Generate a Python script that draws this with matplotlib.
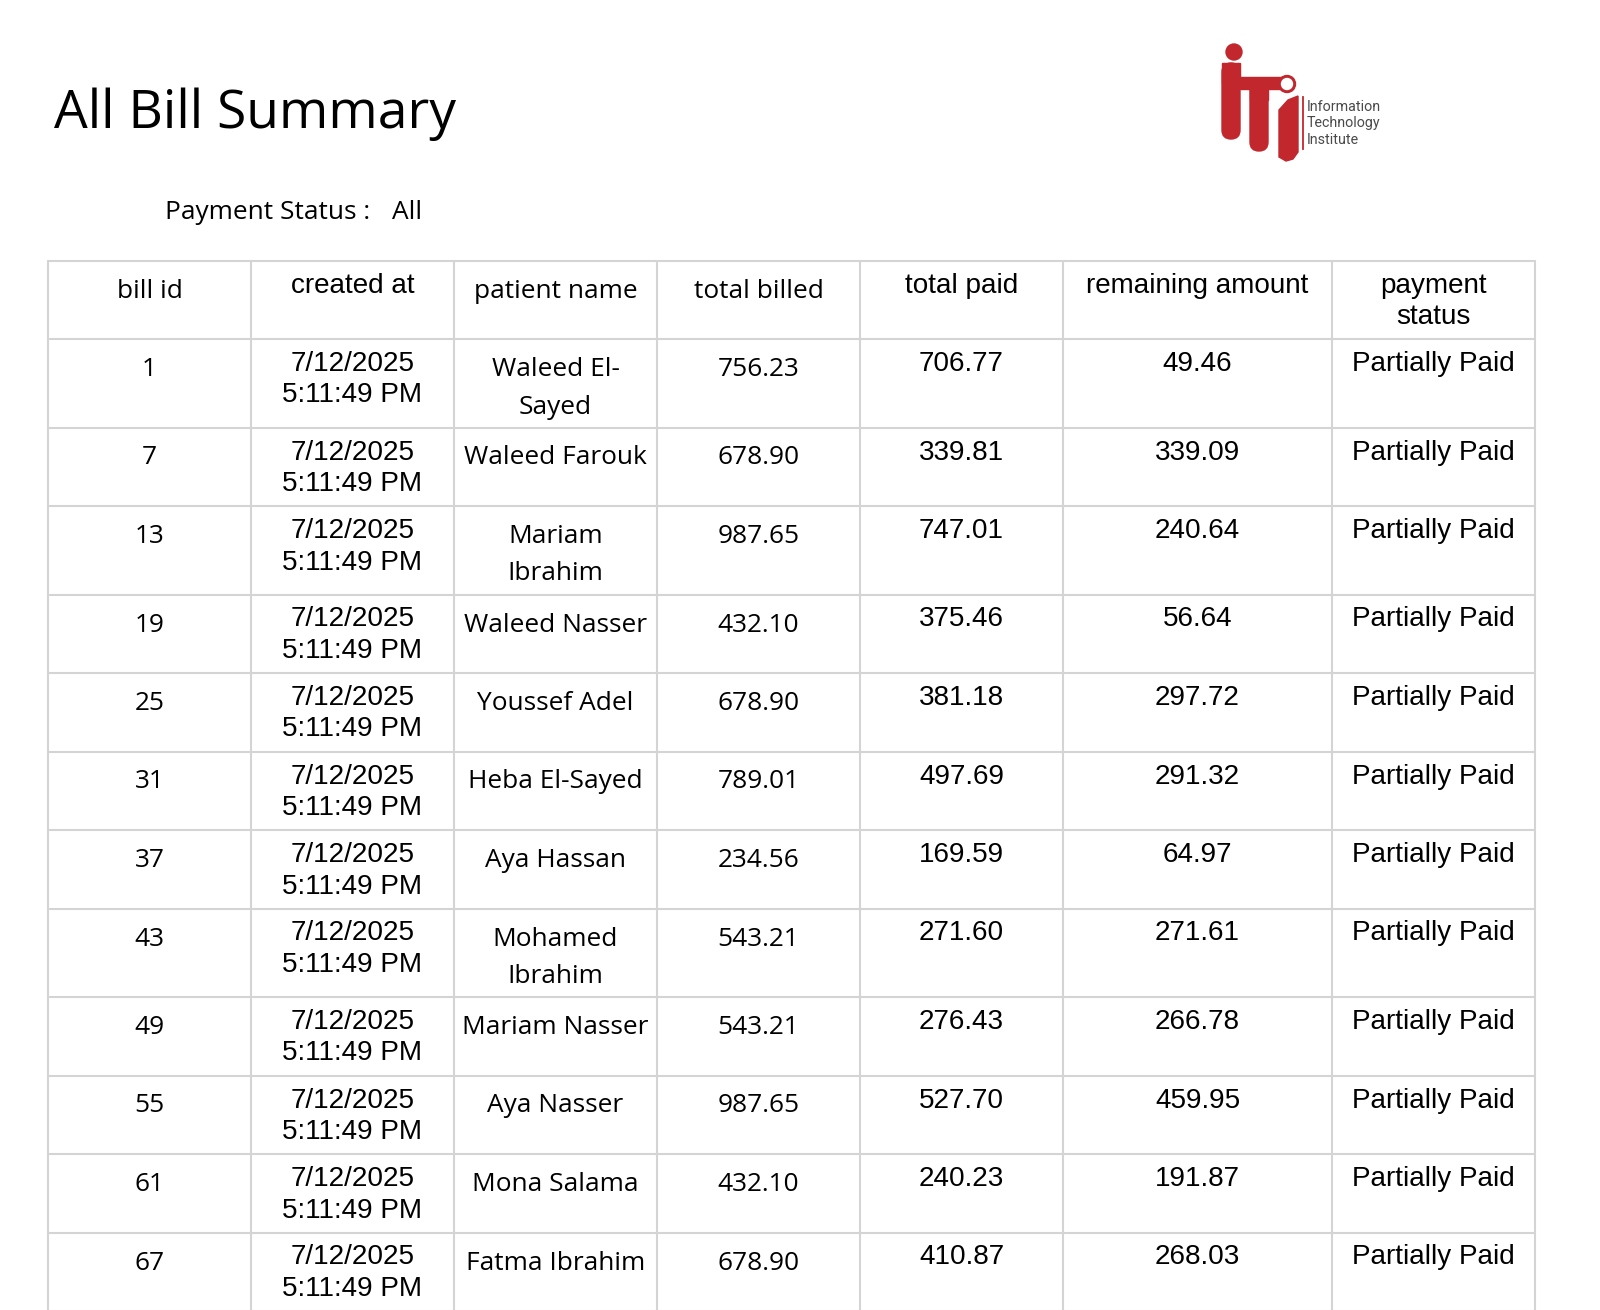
import matplotlib
matplotlib.use("Agg")
import matplotlib.pyplot as plt
from matplotlib.patches import Circle, FancyBboxPatch, Polygon, Rectangle

# ---------------- data ----------------
title = "All Bill Summary"
filter_label = "Payment Status :"
filter_value = "All"

headers = ["bill id", "created at", "patient name", "total billed",
           "total paid", "remaining amount", "payment\nstatus"]

bill_ids = [1, 7, 13, 19, 25, 31, 37, 43, 49, 55, 61, 67]
created_at = ["7/12/2025\n5:11:49 PM"] * 12
patient_names = ["Waleed El-\nSayed", "Waleed Farouk", "Mariam\nIbrahim", "Waleed Nasser",
                 "Youssef Adel", "Heba El-Sayed", "Aya Hassan", "Mohamed\nIbrahim",
                 "Mariam Nasser", "Aya Nasser", "Mona Salama", "Fatma Ibrahim"]
total_billed = [756.23, 678.90, 987.65, 432.10, 678.90, 789.01, 234.56, 543.21,
                543.21, 987.65, 432.10, 678.90]
total_paid = [706.77, 339.81, 747.01, 375.46, 381.18, 497.69, 169.59, 271.60,
              276.43, 527.70, 240.23, 410.87]
remaining_amount = [49.46, 339.09, 240.64, 56.64, 297.72, 291.32, 64.97, 271.61,
                    266.78, 459.95, 191.87, 268.03]
payment_status = ["Partially Paid"] * 12

# ---------------- layout / style ----------------
W, H = 1600, 1310
SEGOE = ["Open Sans", "DejaVu Sans"]
ARIAL = ["Liberation Sans", "DejaVu Sans"]
SEG_SIZE = 18.9
ARI_SIZE = 20.1
GRID = "#d4d4d4"
TXT = "#000000"

col_widths = [203, 203, 203, 203, 203, 269, 203]
col_fonts = ["seg", "ari", "seg", "seg", "ari", "ari", "ari"]
x0, y0 = 48, 261
header_h = 78
row_h_single = 78.5
row_h_double = 88.5

fig = plt.figure(figsize=(W / 100, H / 100), dpi=100)
fig.patch.set_facecolor("white")
ax = fig.add_axes([0, 0, 1, 1])
ax.set_xlim(0, W)
ax.set_ylim(H, 0)
ax.axis("off")

# title and filter
ax.text(54, 128, title, family=SEGOE, fontsize=38.4, color=TXT, ha="left", va="baseline")
ax.text(165, 219, filter_label, family=SEGOE, fontsize=SEG_SIZE, color=TXT, ha="left", va="baseline")
ax.text(392, 219, filter_value, family=SEGOE, fontsize=SEG_SIZE, color=TXT, ha="left", va="baseline")

# ---- logo (decoration) ----
red = "#c1272d"
ax.add_patch(Circle((1234, 52), 8, color=red, zorder=3))
ax.add_patch(FancyBboxPatch((1222, 63), 18, 76, boxstyle="round,pad=0,rounding_size=9",
                            color=red, zorder=3))
ax.add_patch(Rectangle((1222, 63), 18, 20, color=red, zorder=3))
ax.add_patch(Rectangle((1240, 77), 48, 12, color=red, zorder=3))
ax.add_patch(FancyBboxPatch((1250, 80), 18, 71, boxstyle="round,pad=0,rounding_size=9",
                            color=red, zorder=3))
ax.add_patch(Rectangle((1250, 80), 18, 20, color=red, zorder=3))
ax.add_patch(Circle((1287, 84), 8.5, color=red, zorder=4))
ax.add_patch(Circle((1287, 84), 5.5, color="white", zorder=5))
ax.add_patch(Polygon([(1298, 96), (1298, 152), (1293, 159), (1286, 161), (1279, 157),
                      (1279, 110), (1288, 100)], closed=True, color=red, zorder=3))
ax.plot([1303, 1303], [97, 149], color=red, lw=1.3, zorder=3)
for i, word in enumerate(["Information", "Technology", "Institute"]):
    ax.text(1307, 111 + 16.5 * i, word, family=["Roboto", "DejaVu Sans"], fontsize=10.3,
            color="#4a4a4a", ha="left", va="baseline")

# ---------------- table ----------------
columns = [
    [str(v) for v in bill_ids],
    created_at,
    patient_names,
    [f"{v:.2f}" for v in total_billed],
    [f"{v:.2f}" for v in total_paid],
    [f"{v:.2f}" for v in remaining_amount],
    payment_status,
]

row_heights = [header_h] + [row_h_double if "\n" in n else row_h_single for n in patient_names]
row_tops = [y0]
for h in row_heights:
    row_tops.append(row_tops[-1] + h)

col_lefts = [x0]
for w in col_widths:
    col_lefts.append(col_lefts[-1] + w)


def draw_cell(xc, top, text, kind):
    if kind == "seg":
        base, step, fam, fs = 37, 37.5, SEGOE, SEG_SIZE
    else:
        base, step, fam, fs = 32, 31.5, ARIAL, ARI_SIZE
    for k, line in enumerate(text.split("\n")):
        ax.text(xc, top + base + k * step, line, family=fam, fontsize=fs, color=TXT,
                ha="center", va="baseline", zorder=2)


for j in range(len(col_widths)):
    xc = col_lefts[j] + col_widths[j] / 2
    draw_cell(xc, row_tops[0], headers[j], col_fonts[j])
    for i in range(len(bill_ids)):
        draw_cell(xc, row_tops[i + 1], columns[j][i], col_fonts[j])

# grid lines
lw = 1.5
bottom = row_tops[-1]
ax.hlines(row_tops[:-1], col_lefts[0] - 1, col_lefts[-1] + 1, colors=GRID, lw=lw, zorder=1)
ax.hlines([bottom], col_lefts[0] - 1, col_lefts[-1] + 1, colors=GRID, lw=lw, zorder=1)
ax.vlines(col_lefts, y0 - 1, bottom + 1, colors=GRID, lw=lw, zorder=1)

fig.savefig("out.png", dpi=100, facecolor="white")
